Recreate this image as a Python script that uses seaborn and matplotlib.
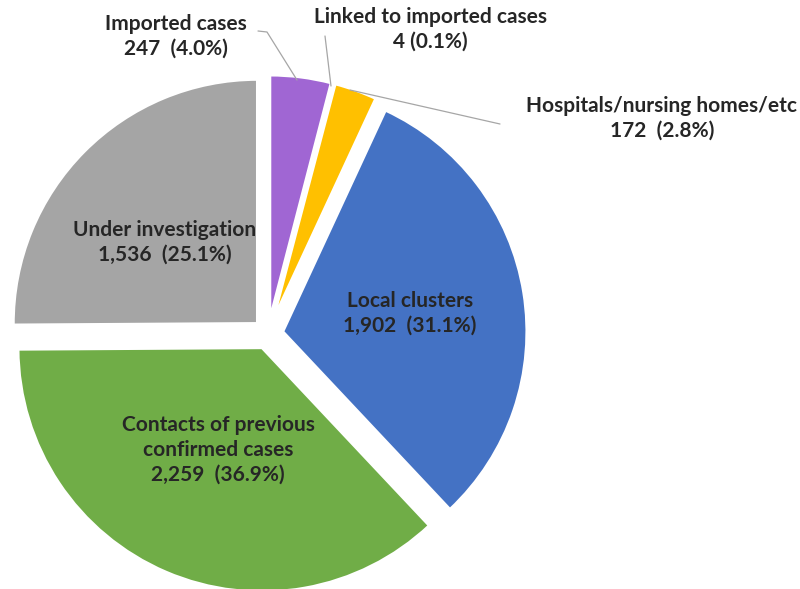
import matplotlib
matplotlib.use("Agg")
import matplotlib.pyplot as plt
import seaborn as sns

# Data (clockwise from 12 o'clock)
labels = ["Imported cases", "Linked to imported cases", "Hospitals/nursing homes/etc",
          "Local clusters", "Contacts of previous\nconfirmed cases", "Under investigation"]
counts = [247, 4, 172, 1902, 2259, 1536]
percents = [4.0, 0.1, 2.8, 31.1, 36.9, 25.1]
colors = ["#A066D3", "#FFC000", "#FFC000", "#4472C4", "#70AD47", "#A5A5A5"]

sns.set_theme(style="white")
plt.rcParams['font.family'] = ['Lato', 'DejaVu Sans']

W, H = 800, 589
fig = plt.figure(figsize=(W / 100, H / 100), dpi=100)
ax = fig.add_axes([0, 0, 1, 1])


def img(x, y):
    # convert image pixel coords (y down) to axes coords (y up)
    return x, H - y


# explode is in data units (pixels here)
cx, cy = img(268, 334)
ax.pie(counts, colors=colors, startangle=90, counterclock=False,
       center=(cx, cy), radius=244, explode=[15] * len(counts),
       wedgeprops=dict(edgecolor="white", linewidth=2), frame=True)
ax.set_xlim(0, W)
ax.set_ylim(0, H)
ax.set_aspect('equal')
ax.axis('off')

text_kw = dict(ha="center", va="center", fontsize=15, fontweight="bold",
               color="#262626", linespacing=1.3)

# label positions in image pixels
label_pos = [(176, 36), (430, 29), (662, 118), (410, 313), (218, 450), (165, 242)]
for lab, n, p, (x, y) in zip(labels, counts, percents, label_pos):
    sep = " " if n < 10 else "  "
    ax.text(*img(x, y), f"{lab}\n{n:,}{sep}({p:.1f}%)", **text_kw)

# leader lines for the small outside slices
lines = [
    [(258, 31), (267, 32), (297, 80)],
    [(325, 36), (331, 86)],
    [(350, 90), (500, 124)],
]
for pts in lines:
    xs = [img(*p)[0] for p in pts]
    ys = [img(*p)[1] for p in pts]
    ax.plot(xs, ys, color="#A6A6A6", linewidth=0.9)

fig.savefig("out.png", dpi=100, facecolor="white")
